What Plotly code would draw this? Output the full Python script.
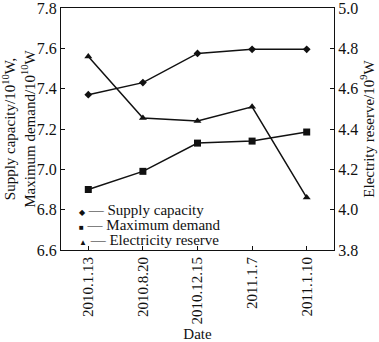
import plotly.graph_objects as go

# Observation dates (category axis)
dates = ["2010.1.13", "2010.8.20", "2010.12.15", "2011.1.7", "2011.1.10"]

# Left axis series, 10^10 W
supply_capacity = [7.37, 7.43, 7.575, 7.595, 7.595]
maximum_demand = [6.90, 6.99, 7.13, 7.14, 7.185]

# Right axis series, 10^9 W
electricity_reserve = [4.76, 4.455, 4.44, 4.51, 4.06]

SERIF = "Liberation Serif"
BLACK = "#111111"

fig = go.Figure()

fig.add_trace(go.Scatter(
    x=dates, y=supply_capacity, name="Supply capacity",
    mode="lines+markers",
    line=dict(color=BLACK, width=1.5),
    marker=dict(symbol="diamond", size=6, color=BLACK),
    showlegend=False,
))
fig.add_trace(go.Scatter(
    x=dates, y=maximum_demand, name="Maximum demand",
    mode="lines+markers",
    line=dict(color=BLACK, width=1.5),
    marker=dict(symbol="square", size=7, color=BLACK),
    showlegend=False,
))
fig.add_trace(go.Scatter(
    x=dates, y=electricity_reserve, name="Electricity reserve",
    mode="lines+markers", yaxis="y2",
    line=dict(color=BLACK, width=1.5),
    marker=dict(symbol="triangle-up", size=7, color=BLACK),
    showlegend=False,
))

# Compact legend rows: symbol, dash, label
legend_rows = [
    ("<span style='font-size:8px'>◆</span> — Supply capacity", 0.166),
    ("<span style='font-size:8px'>■</span> — Maximum demand", 0.104),
    ("<span style='font-size:8px'>▲</span> — Electricity reserve", 0.041),
]
annotations = []
for text, ypos in legend_rows:
    annotations.append(dict(
        text=text, xref="paper", yref="paper", x=0.06, y=ypos,
        xanchor="left", yanchor="middle", showarrow=False,
        font=dict(family=SERIF, size=15, color=BLACK),
    ))

axis_common = dict(
    showline=True, linecolor=BLACK, linewidth=1,
    ticks="inside", ticklen=4, tickcolor=BLACK,
    showgrid=False, zeroline=False,
    ticklabeloverflow="allow", automargin=False,
)

fig.update_layout(
    width=379, height=342,
    margin=dict(l=61, r=45, t=8, b=92),
    paper_bgcolor="white", plot_bgcolor="white",
    font=dict(family=SERIF, size=16, color=BLACK),
    annotations=annotations,
    xaxis=dict(
        **axis_common, mirror=True,
        type="category", range=[-0.5, 4.5],
        tickangle=-90, tickfont=dict(size=15),
        title=dict(text="Date", font=dict(size=15), standoff=16),
    ),
    yaxis=dict(
        **axis_common,
        range=[6.5999, 7.8001], tick0=6.6, dtick=0.2, tickformat=".1f",
        tickfont=dict(size=16),
        title=dict(
            text="Supply capacity/10<sup>10</sup>W,<br>Maximum demand/10<sup>10</sup>W",
            font=dict(size=15), standoff=2,
        ),
    ),
    yaxis2=dict(
        **axis_common,
        overlaying="y", side="right",
        range=[3.7999, 5.0001], tick0=3.8, dtick=0.2, tickformat=".1f",
        tickfont=dict(size=16),
        title=dict(text="Electrity reserve/10<sup>9</sup>W",
                   font=dict(size=15), standoff=4),
    ),
)

fig.write_html("out.html")
